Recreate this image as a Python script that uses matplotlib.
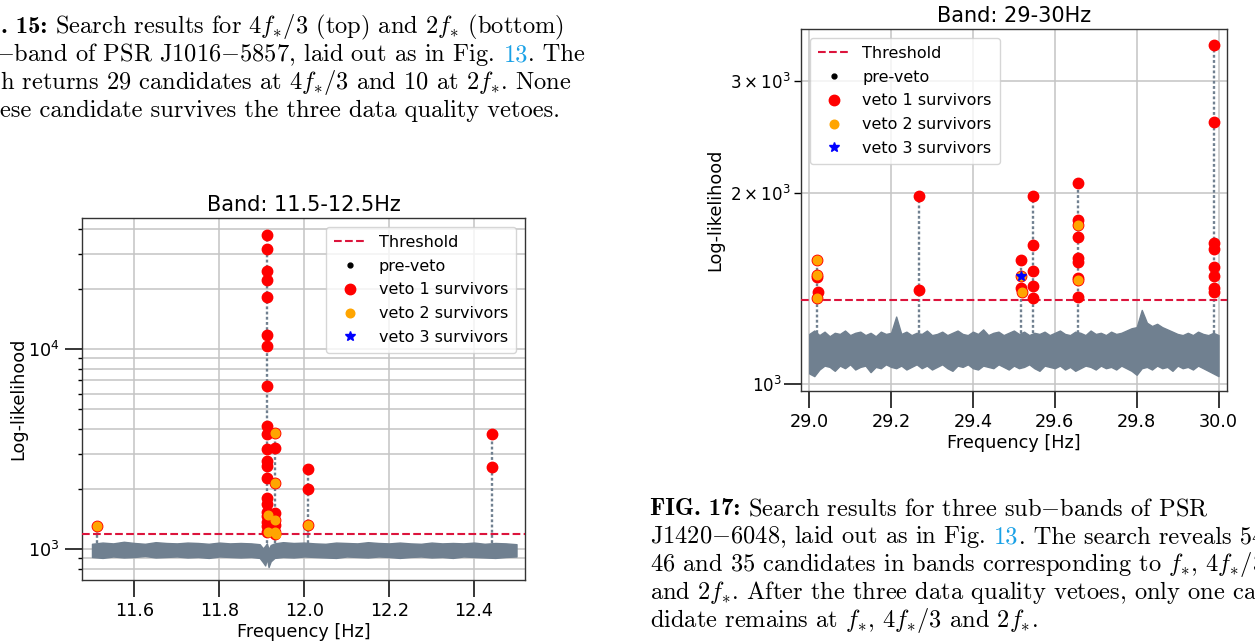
import numpy as np
import matplotlib
matplotlib.use("Agg")
import matplotlib.pyplot as plt
from matplotlib.transforms import IdentityTransform

W, H = 1255, 644
GREY = "#708090"
LINK = "#1aa1e6"

# ---------------- band 11.5-12.5 Hz (PSR J1016-5857, 2f*) ----------------
LOW_THRESHOLD = 1190
LOW_BAND_F = [11.500, 11.525, 11.550, 11.575, 11.600, 11.625, 11.650, 11.675,
              11.700, 11.725, 11.750, 11.775, 11.800, 11.825, 11.850, 11.875,
              11.895, 11.903, 11.908, 11.912, 11.916, 11.921, 11.930, 11.950,
              11.975, 12.000, 12.025, 12.050, 12.075, 12.100, 12.125, 12.150,
              12.175, 12.200, 12.225, 12.250, 12.275, 12.300, 12.325, 12.350,
              12.375, 12.400, 12.425, 12.450, 12.475, 12.500]
LOW_BAND_HI = [1065, 1080, 1070, 1090, 1075, 1065, 1085, 1075,
               1070, 1080, 1075, 1065, 1080, 1070, 1075, 1070,
               1060, 1010, 1040, 1070, 1000, 1050, 1070, 1085,
               1075, 1080, 1070, 1065, 1080, 1075, 1070, 1085,
               1075, 1070, 1080, 1070, 1065, 1080, 1070, 1075,
               1070, 1080, 1065, 1075, 1070, 1060]
LOW_BAND_LO = [915, 905, 920, 910, 915, 925, 910, 915,
               920, 910, 915, 905, 920, 915, 910, 915,
               905, 860, 830, 900, 815, 870, 905, 915,
               910, 920, 915, 910, 905, 920, 915, 910,
               920, 915, 905, 915, 920, 910, 915, 905,
               920, 915, 910, 905, 915, 920]
LOW_SPIKE_F = [11.513, 11.912, 11.932, 12.010, 12.442]
LOW_SPIKE_TOP = [1312, 37450, 3800, 2530, 3760]

LOW_V1_F = [11.513,
            11.912, 11.912, 11.912, 11.912, 11.912, 11.912, 11.912, 11.912,
            11.912, 11.912, 11.912, 11.912, 11.912, 11.912, 11.912, 11.912,
            11.912, 11.912, 11.912, 11.912, 11.912,
            11.932, 11.932, 11.932, 11.932, 11.932, 11.932, 11.932, 11.932,
            12.010, 12.010, 12.010,
            12.442, 12.442]
LOW_V1_L = [1312,
            37450, 31740, 24730, 22130, 18270, 11750, 10390, 6530,
            4150, 3785, 3162, 2775, 2610, 2265, 1813, 1686,
            1540, 1470, 1375, 1300, 1225,
            3800, 3213, 2138, 1514, 1402, 1324, 1225, 1195,
            2530, 2010, 1328,
            3760, 2570]
LOW_V2_F = [11.513, 11.9135, 11.9135, 11.932, 11.932, 11.932, 11.932, 11.933, 12.010]
LOW_V2_L = [1312, 1490, 1225, 3800, 2138, 1402, 1225, 1195, 1328]
LOW_V3_F = []
LOW_V3_L = []

# ---------------- band 29-30 Hz (PSR J1420-6048) ----------------
HIGH_THRESHOLD = 1358
HIGH_BAND_F = [29.0, 29.0125, 29.025, 29.0375, 29.05, 29.0625, 29.075, 29.0875, 29.1, 29.1125,
               29.125, 29.1375, 29.15, 29.1625, 29.175, 29.1875, 29.2, 29.2125, 29.225, 29.2375,
               29.25, 29.2625, 29.275, 29.2875, 29.3, 29.3125, 29.325, 29.3375, 29.35, 29.3625,
               29.375, 29.3875, 29.4, 29.4125, 29.425, 29.4375, 29.45, 29.4625, 29.475, 29.4875,
               29.5, 29.5125, 29.525, 29.5375, 29.55, 29.5625, 29.575, 29.5875, 29.6, 29.6125,
               29.625, 29.6375, 29.65, 29.6625, 29.675, 29.6875, 29.7, 29.7125, 29.725, 29.7375,
               29.75, 29.7625, 29.775, 29.7875, 29.8, 29.8125, 29.825, 29.8375, 29.85, 29.8625,
               29.875, 29.8875, 29.9, 29.9125, 29.925, 29.9375, 29.95, 29.9625, 29.975, 29.9875,
               30.0]
HIGH_BAND_HI = [1200, 1215, 1195, 1210, 1190, 1205, 1200, 1215, 1195, 1205,
                1210, 1195, 1205, 1190, 1210, 1200, 1205, 1278, 1200, 1210,
                1195, 1205, 1200, 1215, 1195, 1200, 1210, 1195, 1205, 1215,
                1200, 1195, 1210, 1200, 1220, 1195, 1205, 1210, 1195, 1205,
                1215, 1200, 1210, 1195, 1205, 1200, 1210, 1195, 1205, 1215,
                1200, 1195, 1210, 1205, 1195, 1215, 1200, 1205, 1195, 1210,
                1200, 1205, 1215, 1225, 1230, 1309, 1250, 1235, 1245, 1230,
                1220, 1210, 1200, 1195, 1205, 1195, 1210, 1200, 1195, 1205,
                1195]
HIGH_BAND_LO = [1040, 1030, 1055, 1070, 1065, 1050, 1070, 1060, 1075, 1055,
                1065, 1070, 1045, 1065, 1060, 1075, 1065, 1060, 1070, 1055,
                1065, 1075, 1060, 1070, 1055, 1065, 1075, 1060, 1050, 1070,
                1065, 1075, 1060, 1055, 1070, 1065, 1060, 1075, 1065, 1055,
                1070, 1060, 1065, 1075, 1060, 1050, 1070, 1065, 1060, 1070,
                1055, 1065, 1050, 1060, 1070, 1065, 1055, 1070, 1060, 1065,
                1055, 1070, 1060, 1050, 1035, 1060, 1065, 1055, 1070, 1060,
                1065, 1050, 1070, 1060, 1065, 1055, 1070, 1060, 1050, 1040,
                1030]
HIGH_SPIKE_F = [29.019, 29.268, 29.518, 29.548, 29.656, 29.989]
HIGH_SPIKE_TOP = [1570, 1975, 1571, 1975, 2077, 3414]

HIGH_V1_F = [29.019, 29.019, 29.019, 29.021, 29.019,
             29.268, 29.268,
             29.518, 29.518, 29.518, 29.519,
             29.548, 29.548, 29.548, 29.548, 29.548,
             29.656, 29.656, 29.656, 29.656, 29.657, 29.656, 29.657, 29.656, 29.657,
             29.989, 29.989, 29.990, 29.990, 29.989, 29.990, 29.990, 29.990]
HIGH_V1_L = [1570, 1486, 1474, 1396, 1369,
             1975, 1408,
             1571, 1483, 1416, 1396,
             1975, 1656, 1508, 1429, 1366,
             2077, 1815, 1782, 1708, 1579, 1560, 1469, 1459, 1371,
             3414, 2586, 1671, 1632, 1531, 1481, 1416, 1399]
HIGH_V2_F = [29.019, 29.019, 29.019, 29.518, 29.519, 29.656, 29.656]
HIGH_V2_L = [1570, 1486, 1369, 1483, 1396, 1782, 1459]
HIGH_V3_F = [29.518]
HIGH_V3_L = [1483]


def plot_band(ax, band_f, hi, lo, spike_f, spike_top, thr,
              v1f, v1l, v2f, v2l, v3f, v3l, title, xlim, ylim, xticks, loc):
    ax.fill_between(band_f, lo, hi, color=GREY, edgecolor=GREY, lw=1.0, zorder=2)
    ax.vlines(spike_f, np.median(hi), spike_top, colors=GREY,
              linestyles=(0, (1.2, 1.0)), lw=1.7, zorder=2)
    ax.axhline(thr, color="crimson", ls="--", lw=1.5, label="Threshold", zorder=3)
    ax.plot(v1f, v1l, ".", color="k", ms=7, ls="", label="pre-veto", zorder=3)
    ax.plot(v1f, v1l, "o", color="red", ms=7.5, ls="", label="veto 1 survivors", zorder=4)
    ax.plot(v2f, v2l, "o", color="orange", ms=6.2, ls="", label="veto 2 survivors", zorder=5)
    ax.plot(v3f, v3l, "*", color="blue", ms=7, ls="", label="veto 3 survivors", zorder=6)

    ax.set_yscale("log")
    ax.set_xlim(*xlim)
    ax.set_ylim(*ylim)
    ax.set_xticks(xticks)
    ax.grid(True, which="both", color="#c4c4c4", lw=1.1, zorder=0)
    ax.set_axisbelow(True)
    ax.tick_params(which="major", length=12, width=1.1, labelsize=12.7, pad=4)
    ax.tick_params(which="minor", length=3, width=1.0, labelsize=12.7)
    for s in ax.spines.values():
        s.set_color("#333333")
        s.set_linewidth(1.0)
    ax.set_xlabel("Frequency [Hz]", fontsize=12.7, labelpad=2)
    ax.set_ylabel("Log-likelihood", fontsize=12.7)
    ax.set_title(title, fontsize=15, pad=5)
    ax.legend(loc=loc, fontsize=11.5, labelspacing=0.55, borderpad=0.5, borderaxespad=0.55)


fig = plt.figure(figsize=(W / 100, H / 100), dpi=100)

ax1 = fig.add_axes([82 / W, 1 - 580 / H, (525 - 82) / W, (580 - 218) / H])
plot_band(ax1, LOW_BAND_F, LOW_BAND_HI, LOW_BAND_LO, LOW_SPIKE_F, LOW_SPIKE_TOP,
          LOW_THRESHOLD, LOW_V1_F, LOW_V1_L, LOW_V2_F, LOW_V2_L, LOW_V3_F, LOW_V3_L,
          "Band: 11.5-12.5Hz", (11.4765, 12.52), (702, 45300),
          [11.6, 11.8, 12.0, 12.2, 12.4], "upper right")
ax1.yaxis.set_label_coords(-0.124, 0.5)

ax2 = fig.add_axes([801 / W, 1 - 390.7 / H, (1226.7 - 801) / W, (390.7 - 29) / H])
plot_band(ax2, HIGH_BAND_F, HIGH_BAND_HI, HIGH_BAND_LO, HIGH_SPIKE_F, HIGH_SPIKE_TOP,
          HIGH_THRESHOLD, HIGH_V1_F, HIGH_V1_L, HIGH_V2_F, HIGH_V2_L, HIGH_V3_F, HIGH_V3_L,
          "Band: 29-30Hz", (28.98, 30.02), (977, 3623),
          [29.0, 29.2, 29.4, 29.6, 29.8, 30.0], "upper left")
ax2.tick_params(axis="y", which="both", labelsize=12, pad=2)
ax2.tick_params(axis="y", which="minor", length=5)
ax2.yaxis.set_label_coords(-0.18, 0.5)

# ---------------- captions (page text around the figures) ----------------
CAP_SIZE = 17.6
renderer = fig.canvas.get_renderer()


def cap_text(x, y, s, color="k", ha="left", family="cmr10"):
    return fig.text(x, H - y, s, transform=IdentityTransform(), ha=ha, va="baseline",
                    fontsize=CAP_SIZE, family=family, math_fontfamily="cm", color=color)


def text_width(s, family="cmr10"):
    t = cap_text(0, 0, s, family=family)
    w = t.get_window_extent(renderer).width
    t.remove()
    return w


SPACE_W = text_width("a a") - text_width("aa")


def cap_bold_line(x, y, bold, rest):
    b = cap_text(x, y, bold, family="cmb10")
    x1 = b.get_window_extent(renderer).x1
    cap_text(x1 + SPACE_W, y, rest)


def cap_line_with_link(x, y, before, link, after):
    probe = cap_text(x, y, before + link)
    x_end = probe.get_window_extent(renderer).x1
    probe.remove()
    cap_text(x, y, before)
    cap_text(x_end, y, link, color=LINK, ha="right")
    cap_text(x_end, y, after)


cap_bold_line(1, 33, ". 15:", r"Search results for $4f_{*}/3$ (top) and $2f_{*}$ (bottom)")
cap_line_with_link(-5, 61, r"$-$band of PSR J1016$-$5857, laid out as in Fig. ", "13", ". The")
cap_text(0, 89, r"h returns 29 candidates at $4f_{*}/3$ and 10 at $2f_{*}$. None")
cap_text(0, 117, r"ese candidate survives the three data quality vetoes.")

cap_bold_line(650, 515, "FIG. 17:", r"Search results for three sub$-$bands of PSR")
cap_line_with_link(650, 543, r"J1420$-$6048, laid out as in Fig. ", "13", ". The search reveals 54,")
cap_text(650, 571, r"46 and 35 candidates in bands corresponding to $f_{*}$, $4f_{*}/3$")
cap_text(650, 599, r"and $2f_{*}$. After the three data quality vetoes, only one can-")
cap_text(650, 627, r"didate remains at $f_{*}$, $4f_{*}/3$ and $2f_{*}$.")

fig.savefig("out.png", dpi=100)
